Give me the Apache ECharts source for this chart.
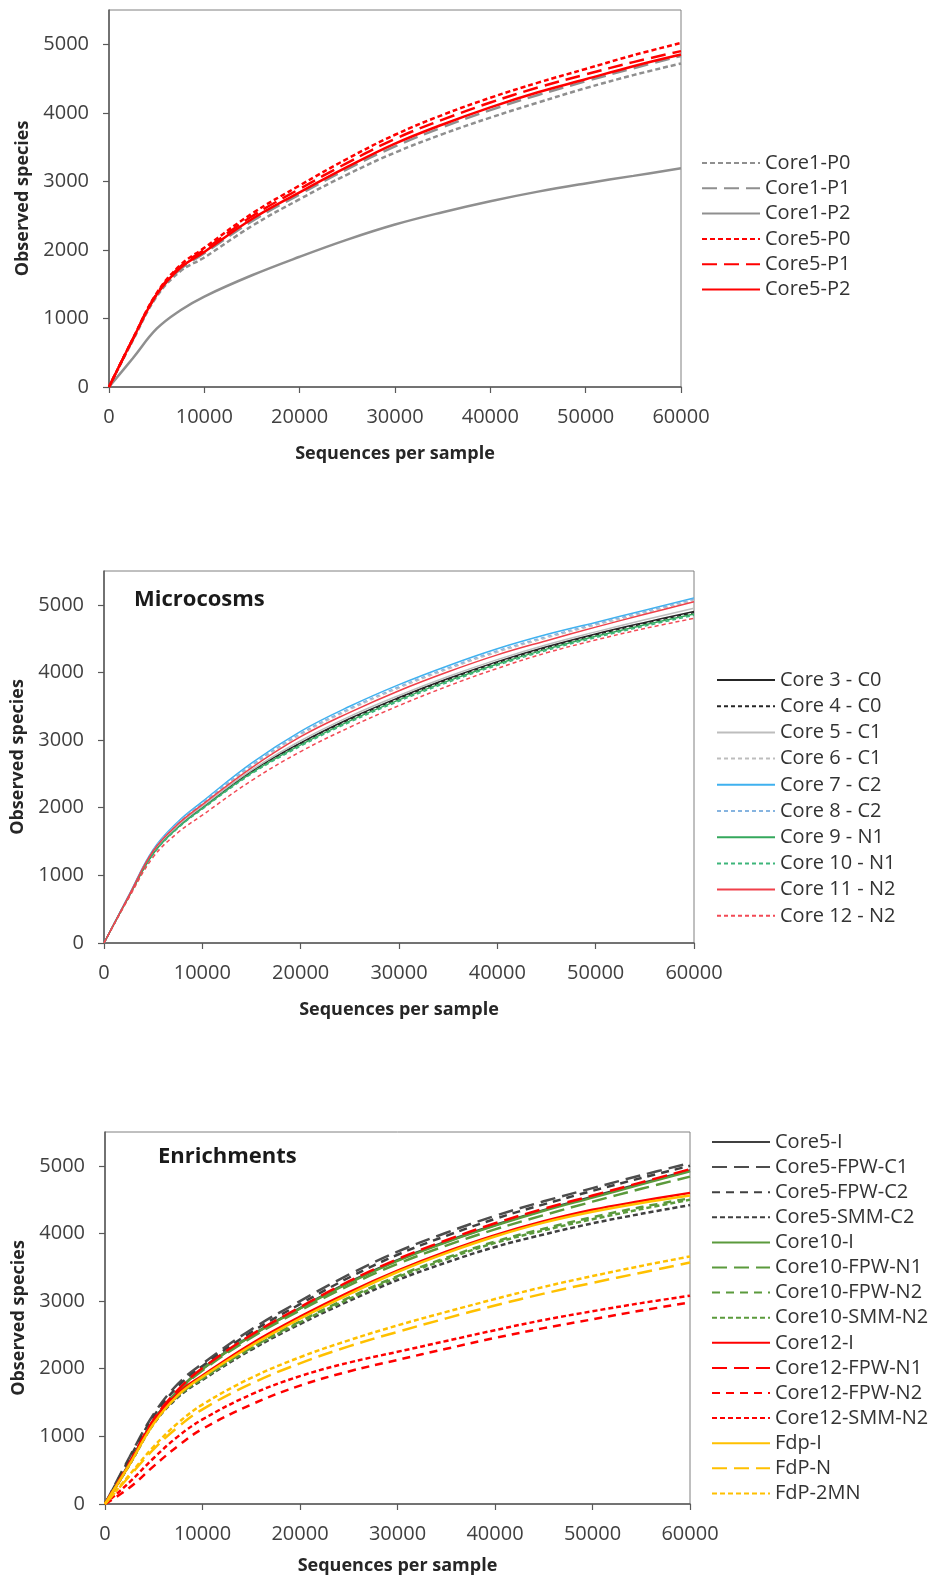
<!DOCTYPE html>
<html>
<head>
<meta charset="utf-8">
<script src="https://cdn.jsdelivr.net/npm/echarts@6/dist/echarts.min.js"></script>
<style>
html,body{margin:0;padding:0;background:#fff;}
#chart{width:936px;height:1577px;}
</style>
</head>
<body>
<div id="chart"></div>
<script>
// ---------- data ----------
const xSeq = [0,2500,5000,7500,10000,15000,20000,25000,30000,35000,40000,45000,50000,55000,60000];
const yTicks = [0,1000,2000,3000,4000,5000];

// Chart 1
const core1P0 = [0,680,1320,1690,1890,2350,2740,3100,3420,3690,3930,4150,4360,4550,4720];
const core1P1 = [0,690,1340,1720,1950,2420,2810,3180,3510,3790,4040,4260,4460,4650,4830];
const core1P2 = [0,420,850,1120,1320,1630,1900,2150,2370,2550,2710,2850,2970,3080,3190];
const core5P0 = [0,705,1370,1780,2030,2530,2940,3330,3680,3970,4220,4440,4640,4840,5020];
const core5P1 = [0,700,1360,1760,2000,2490,2890,3270,3620,3900,4150,4370,4560,4740,4900];
const core5P2 = [0,700,1350,1740,1970,2450,2840,3210,3550,3830,4080,4300,4490,4680,4850];

// Chart 2 (Microcosms)
const m3C0  = [0,680,1330,1720,2010,2540,2960,3320,3630,3910,4160,4380,4570,4740,4900];
const m4C0  = [0,680,1330,1715,2000,2530,2950,3305,3615,3895,4145,4365,4555,4725,4885];
const m5C1  = [0,685,1345,1730,2020,2555,2990,3350,3660,3940,4190,4410,4600,4780,4950];
const m6C1  = [0,690,1360,1765,2055,2610,3080,3450,3770,4050,4300,4510,4700,4880,5065];
const m7C2  = [0,700,1380,1790,2090,2660,3130,3500,3820,4100,4350,4560,4740,4920,5100];
const m8C2  = [0,690,1370,1775,2070,2630,3100,3470,3790,4070,4320,4530,4720,4900,5085];
const m9N1  = [0,678,1320,1705,1990,2515,2930,3285,3595,3875,4125,4345,4535,4705,4865];
const m10N1 = [0,675,1310,1695,1980,2500,2910,3265,3575,3855,4105,4325,4515,4685,4845];
const m11N2 = [0,690,1360,1755,2045,2590,3050,3410,3730,4010,4260,4470,4670,4860,5045];
const m12N2 = [0,660,1270,1630,1890,2400,2830,3190,3510,3800,4060,4290,4480,4650,4800];

// Chart 3 (Enrichments)
const e5I      = [0,600,1240,1680,2000,2490,2895,3275,3605,3880,4125,4345,4545,4740,4930];
const e5FPWC1  = [0,690,1330,1780,2075,2580,3000,3390,3730,4010,4260,4475,4670,4860,5040];
const e5FPWC2  = [0,670,1300,1740,2040,2540,2955,3345,3685,3965,4215,4430,4630,4820,5000];
const e5SMMC2  = [0,575,1185,1580,1835,2280,2660,3000,3310,3570,3800,3985,4150,4290,4420];
const e10I     = [0,595,1235,1675,1995,2485,2890,3265,3595,3870,4115,4335,4530,4725,4920];
const e10FPWN1 = [0,590,1225,1660,1975,2460,2860,3230,3550,3820,4060,4270,4470,4660,4840];
const e10FPWN2 = [0,585,1200,1600,1860,2310,2700,3050,3370,3640,3880,4070,4240,4390,4520];
const e10SMMN2 = [0,580,1195,1595,1850,2300,2685,3030,3350,3620,3860,4045,4210,4360,4500];
const e12I     = [0,590,1235,1640,1900,2370,2770,3130,3450,3730,3975,4180,4350,4480,4600];
const e12FPWN1 = [0,610,1250,1690,2010,2500,2910,3290,3620,3900,4150,4365,4560,4755,4950];
const e12FPWN2 = [0,240,560,860,1110,1470,1750,1960,2130,2295,2455,2600,2730,2860,2980];
const e12SMMN2 = [0,320,680,1000,1250,1620,1890,2090,2250,2410,2570,2720,2850,2970,3080];
const eFdpI    = [0,580,1190,1610,1880,2340,2740,3100,3430,3710,3955,4160,4320,4450,4560];
const eFdpN    = [0,410,810,1140,1400,1780,2080,2330,2545,2745,2935,3110,3270,3420,3570];
const eFdp2MN  = [0,430,850,1200,1470,1865,2170,2420,2640,2840,3030,3210,3370,3520,3660];

// ---------- options ----------
const FONT = "'Open Sans', 'Liberation Sans', sans-serif";
const pair = ys => xSeq.map((x, i) => [x, ys[i]]);

const DOT = [5,3], DASH = [8,6], LONG = [15,7], MDOT = [4,3];

function s(name, ys, grid, color, type, width) {
  return {
    name: name, type: 'line', data: pair(ys),
    xAxisIndex: grid, yAxisIndex: grid,
    symbol: 'none', smooth: 0.4,
    lineStyle: { color: color, width: width, type: type },
    itemStyle: { color: color },
    emphasis: { disabled: true }, z: 3
  };
}

const G1 = '#8f8f8f', R = '#ff0000';
const series1 = [
  s('Core1-P0', core1P0, 0, G1, DOT, 2.5),
  s('Core1-P1', core1P1, 0, G1, LONG, 2.5),
  s('Core1-P2', core1P2, 0, G1, 'solid', 2.5),
  s('Core5-P0', core5P0, 0, R, DOT, 2.5),
  s('Core5-P1', core5P1, 0, R, LONG, 2.5),
  s('Core5-P2', core5P2, 0, R, 'solid', 2.5)
];
const series2 = [
  s('Core 3 - C0', m3C0, 1, '#262626', 'solid', 1.5),
  s('Core 4 - C0', m4C0, 1, '#262626', MDOT, 1.5),
  s('Core 5 - C1', m5C1, 1, '#bdbdbd', 'solid', 1.5),
  s('Core 6 - C1', m6C1, 1, '#bdbdbd', MDOT, 1.5),
  s('Core 7 - C2', m7C2, 1, '#3fb1ef', 'solid', 1.5),
  s('Core 8 - C2', m8C2, 1, '#86b4e0', MDOT, 1.5),
  s('Core 9 - N1', m9N1, 1, '#35a85c', 'solid', 1.5),
  s('Core 10 - N1', m10N1, 1, '#3db57a', MDOT, 1.5),
  s('Core 11 - N2', m11N2, 1, '#f0404a', 'solid', 1.5),
  s('Core 12 - N2', m12N2, 1, '#f24a55', MDOT, 1.5)
];
const K = '#404040', GR = '#5b9a3c', Y = '#ffc000';
const series3 = [
  s('Core5-I', e5I, 2, K, 'solid', 2.5),
  s('Core5-FPW-C1', e5FPWC1, 2, '#4d4d4d', LONG, 2.5),
  s('Core5-FPW-C2', e5FPWC2, 2, K, DASH, 2.5),
  s('Core5-SMM-C2', e5SMMC2, 2, K, DOT, 2.5),
  s('Core10-I', e10I, 2, GR, 'solid', 2.5),
  s('Core10-FPW-N1', e10FPWN1, 2, GR, LONG, 2.5),
  s('Core10-FPW-N2', e10FPWN2, 2, GR, DASH, 2.5),
  s('Core10-SMM-N2', e10SMMN2, 2, GR, DOT, 2.5),
  s('Core12-I', e12I, 2, R, 'solid', 2.5),
  s('Core12-FPW-N1', e12FPWN1, 2, R, LONG, 2.5),
  s('Core12-FPW-N2', e12FPWN2, 2, R, DASH, 2.5),
  s('Core12-SMM-N2', e12SMMN2, 2, R, DOT, 2.5),
  s('Fdp-I', eFdpI, 2, Y, 'solid', 2.5),
  s('FdP-N', eFdpN, 2, Y, LONG, 2.5),
  s('FdP-2MN', eFdp2MN, 2, Y, DOT, 2.5)
];

const grids = [
  { left: 109, top: 10, width: 572, height: 377 },
  { left: 104, top: 571, width: 590, height: 372 },
  { left: 105, top: 1132, width: 585, height: 372 }
].map(g => Object.assign(g, { show: true, borderColor: '#808080', borderWidth: 1, containLabel: false }));

const AX = '#595959';
const plain = v => String(v);
function xAx(i, nameGap) {
  return {
    type: 'value', gridIndex: i, min: 0, max: 60000, interval: 10000,
    name: 'Sequences per sample', nameLocation: 'middle', nameGap: nameGap,
    nameTextStyle: { fontFamily: FONT, fontSize: 18, fontWeight: 'bold', color: '#262626' },
    axisLine: { show: true, onZero: false, lineStyle: { color: AX, width: 1.5 } },
    axisTick: { show: true, length: 6, lineStyle: { color: AX, width: 1.2 } },
    axisLabel: { margin: 20, formatter: plain, fontFamily: FONT, fontSize: 20, color: '#404040' },
    splitLine: { show: false }
  };
}
function yAx(i, nameGap) {
  return {
    type: 'value', gridIndex: i, min: 0, max: 5500,
    name: 'Observed species', nameLocation: 'middle', nameGap: nameGap,
    nameTextStyle: { fontFamily: FONT, fontSize: 18, fontWeight: 'bold', color: '#262626' },
    axisLine: { show: true, onZero: false, lineStyle: { color: AX, width: 1.5 } },
    axisTick: { show: true, length: 6, customValues: yTicks, lineStyle: { color: AX, width: 1.2 } },
    axisLabel: { margin: 20, customValues: yTicks, formatter: plain, fontFamily: FONT, fontSize: 20, color: '#404040' },
    splitLine: { show: false }
  };
}

function leg(left, top, gap, list) {
  return {
    orient: 'vertical', left: left, top: top, padding: 0,
    itemWidth: 58, itemHeight: 14, itemGap: gap,
    selectedMode: false,
    itemStyle: { opacity: 0 },
    data: list.map(x => x.name),
    textStyle: { fontFamily: FONT, fontSize: 20, lineHeight: 20, color: '#333333' }
  };
}

const option = {
  animation: false,
  backgroundColor: '#ffffff',
  title: [
    { text: 'Microcosms', left: 134, top: 589, padding: 0,
      textStyle: { fontFamily: FONT, fontSize: 22, lineHeight: 22, fontWeight: 'bold', color: '#1a1a1a' } },
    { text: 'Enrichments', left: 158, top: 1146, padding: 0,
      textStyle: { fontFamily: FONT, fontSize: 22, lineHeight: 22, fontWeight: 'bold', color: '#1a1a1a' } }
  ],
  grid: grids,
  xAxis: [xAx(0, 58), xAx(1, 58), xAx(2, 53)],
  yAxis: [yAx(0, 64), yAx(1, 59), yAx(2, 60)],
  legend: [
    leg(701, 153, 5.3, series1),
    leg(716, 670, 6.2, series2),
    leg(711, 1132, 5.1, series3)
  ],
  series: series1.concat(series2, series3)
};

const chart = echarts.init(document.getElementById('chart'), null, { renderer: 'canvas' });
chart.setOption(option);
</script>
</body>
</html>
